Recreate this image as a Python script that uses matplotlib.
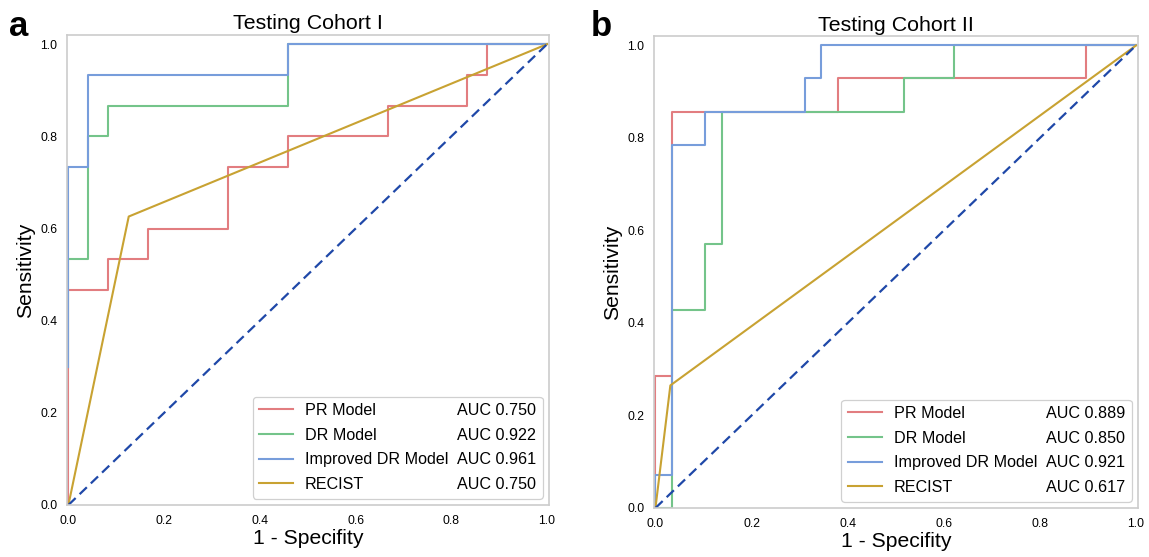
import matplotlib
matplotlib.use("Agg")
import matplotlib.pyplot as plt
from matplotlib.lines import Line2D

plt.rcParams['font.family'] = ['Liberation Sans', 'DejaVu Sans']

# === Data ===
# Testing Cohort I: 15 positives, 24 negatives
c1_pr_fpr = [0, 0, 2/24, 2/24, 4/24, 4/24, 8/24, 8/24, 11/24, 11/24, 16/24, 16/24, 20/24, 20/24, 21/24, 21/24, 1]
c1_pr_tpr = [0, 7/15, 7/15, 8/15, 8/15, 9/15, 9/15, 11/15, 11/15, 12/15, 12/15, 13/15, 13/15, 14/15, 14/15, 1, 1]
c1_dr_fpr = [0, 0, 1/24, 1/24, 2/24, 2/24, 11/24, 11/24, 1]
c1_dr_tpr = [0.30, 8/15, 8/15, 12/15, 12/15, 13/15, 13/15, 1, 1]
c1_idr_fpr = [0, 0, 1/24, 1/24, 11/24, 11/24, 1]
c1_idr_tpr = [0.30, 11/15, 11/15, 14/15, 14/15, 1, 1]
c1_rec_fpr = [0, 0.126, 1]
c1_rec_tpr = [0, 0.626, 1]
c1_auc = ["AUC 0.750", "AUC 0.922", "AUC 0.961", "AUC 0.750"]

# Testing Cohort II: 14 positives, 29 negatives
c2_pr_fpr = [0, 0, 1/29, 1/29, 11/29, 11/29, 26/29, 26/29, 1]
c2_pr_tpr = [0, 4/14, 4/14, 12/14, 12/14, 13/14, 13/14, 1, 1]
c2_dr_fpr = [0, 1/29, 1/29, 3/29, 3/29, 4/29, 4/29, 15/29, 15/29, 18/29, 18/29, 1]
c2_dr_tpr = [0, 0, 6/14, 6/14, 8/14, 8/14, 12/14, 12/14, 13/14, 13/14, 1, 1]
c2_idr_fpr = [0, 0, 1/29, 1/29, 3/29, 3/29, 9/29, 9/29, 10/29, 10/29, 1]
c2_idr_tpr = [0, 1/14, 1/14, 11/14, 11/14, 12/14, 12/14, 13/14, 13/14, 1, 1]
c2_rec_fpr = [0, 0.031, 1]
c2_rec_tpr = [0, 0.265, 1]
c2_auc = ["AUC 0.889", "AUC 0.850", "AUC 0.921", "AUC 0.617"]

names = ["PR Model", "DR Model", "Improved DR Model", "RECIST"]
colors = ["#e27d80", "#74c48a", "#779ddb", "#c8a232"]
diag_color = "#1f48a8"

fig = plt.figure(figsize=(11.49, 5.57), dpi=100)
ax1 = fig.add_axes([0.0583, 0.0934, 0.4195, 0.8438])
ax2 = fig.add_axes([0.5692, 0.0880, 0.4212, 0.8470])


def draw_panel(ax, curves, aucs, title):
    for (fx, ty), c in zip(curves, colors):
        ax.plot(fx, ty, color=c, lw=1.5)
    ax.plot([0, 1], [0, 1], color=diag_color, lw=1.6, ls=(0, (4.5, 2.5)))
    ax.set_xlim(-0.003, 1.004)
    ax.set_ylim(0, 1.02)
    ax.set_title(title, fontsize=15.4, pad=4)
    ax.set_xlabel("1 - Specifity", fontsize=15.2, labelpad=2)
    ax.set_ylabel("Sensitivity", fontsize=15.2, labelpad=4)
    ax.tick_params(length=0, labelsize=8.8, pad=7)
    for s in ax.spines.values():
        s.set_color("#cccccc")
        s.set_linewidth(1.2)

    handles = [Line2D([], [], color=c, lw=1.5) for c in colors]
    handles += [Line2D([], [], color="none") for _ in aucs]
    leg = ax.legend(handles, names + aucs, ncol=2, loc="lower right",
                    fontsize=11.6, handlelength=2.1, handletextpad=0.75,
                    columnspacing=-2.32, labelspacing=0.6, borderpad=0.4,
                    borderaxespad=0.4, framealpha=1, edgecolor="#d0d0d0",
                    fancybox=True)
    leg.get_frame().set_linewidth(0.9)


draw_panel(ax1, [(c1_pr_fpr, c1_pr_tpr), (c1_dr_fpr, c1_dr_tpr),
                 (c1_idr_fpr, c1_idr_tpr), (c1_rec_fpr, c1_rec_tpr)],
           c1_auc, "Testing Cohort I")
draw_panel(ax2, [(c2_pr_fpr, c2_pr_tpr), (c2_dr_fpr, c2_dr_tpr),
                 (c2_idr_fpr, c2_idr_tpr), (c2_rec_fpr, c2_rec_tpr)],
           c2_auc, "Testing Cohort II")

fig.text(0.008, 0.935, "a", fontsize=25, fontweight="bold")
fig.text(0.514, 0.935, "b", fontsize=25, fontweight="bold")

fig.savefig("out.png", dpi=100)
